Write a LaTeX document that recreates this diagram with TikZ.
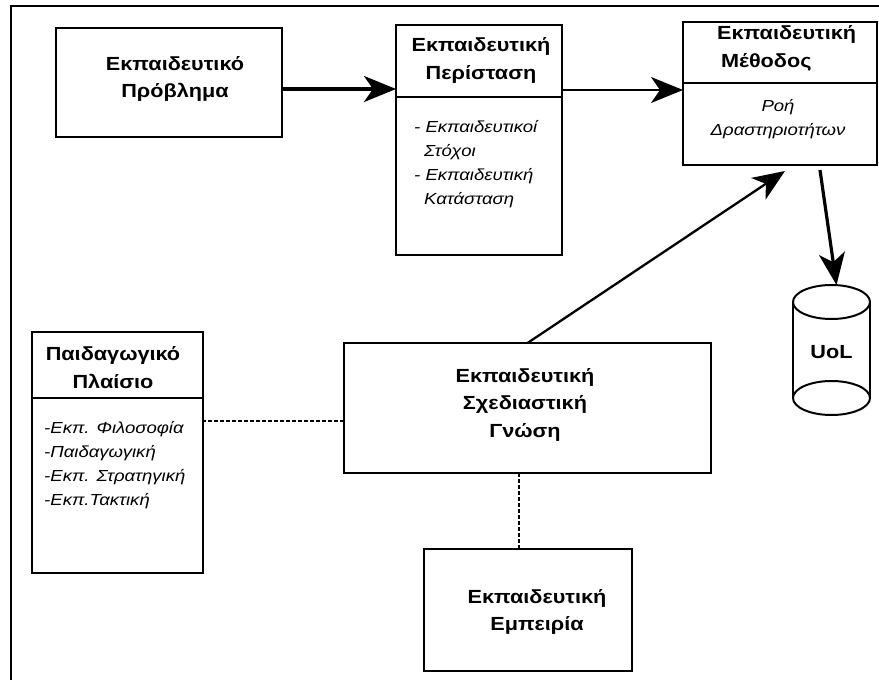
\documentclass[tikz,border=0pt]{standalone}
\usepackage{fontspec}
\setmainfont{Liberation Sans}[
  BoldFeatures={FakeStretch=1.14},
  ItalicFeatures={FakeStretch=1.16}]
\usetikzlibrary{arrows.meta}
\begin{document}
\begin{tikzpicture}[x=1pt,y=-1pt,
  box/.style={draw, line width=2.3pt, inner sep=0pt, outer sep=0pt},
  divider/.style={line width=1.3pt},
  title/.style={font=\fontsize{19}{27.5}\selectfont\bfseries, align=center, inner sep=0pt},
  items/.style={font=\fontsize{16}{24}\selectfont\itshape, align=left, inner sep=0pt},
  arrowline/.style={-{Stealth[length=32pt,width=26pt,inset=9pt]}},
  dashlink/.style={line width=2.4pt, dash pattern=on 4pt off 2pt}
]
\useasboundingbox (0,0) rectangle (879,680);

% frame edges
\draw[line width=2.8pt] (879,6) -- (11,6) -- (11,680);

% boxes
\node[box, minimum width=226pt, minimum height=109pt] (b1) at (169,82.5) {};
\node[box, minimum width=166pt, minimum height=230pt] (b2) at (479,140) {};
\node[box, minimum width=194pt, minimum height=143pt] (b3) at (780,93.5) {};
\node[box, minimum width=367pt, minimum height=130pt] (b4) at (527.5,408) {};
\node[box, minimum width=208pt, minimum height=122pt] (b5) at (528,610) {};
\node[box, minimum width=171pt, minimum height=241pt] (b6) at (117.5,452.5) {};

% compartment dividers
\draw[divider] ([yshift=-72pt]b2.north west) -- ([yshift=-72pt]b2.north east);
\draw[divider] ([yshift=-61pt]b3.north west) -- ([yshift=-61pt]b3.north east);
\draw[divider] ([yshift=-66pt]b6.north west) -- ([yshift=-66pt]b6.north east);

% database cylinder
\node[inner sep=0pt, outer sep=0pt, minimum width=77pt, minimum height=130pt] (cyl) at (831.5,350) {};
\draw[line width=2pt] ([yshift=-17pt]cyl.north west) -- ([yshift=17pt]cyl.south west);
\draw[line width=2pt] ([yshift=-17pt]cyl.north east) -- ([yshift=17pt]cyl.south east);
\draw[line width=2pt, fill=white] ([yshift=-17pt]cyl.north) ellipse [x radius=38.5pt, y radius=17pt];
\draw[line width=2pt] ([yshift=17pt]cyl.south) ellipse [x radius=38.5pt, y radius=17pt];

% texts
\node[title] (t1) at (175,79) {Εκπαιδευτικό\\Πρόβλημα};
\node[title] (t2) at (481,60.5) {Εκπαιδευτική\\Περίσταση};
\node[items, anchor=west] (i2) at (414,164) {- Εκπαιδευτικοί\\\hspace*{10pt}Στόχοι\\- Εκπαιδευτική\\\hspace*{10pt}Κατάσταση};
\node[title, align=left, anchor=west] (t3) at (717,48.5) {Εκπαιδευτική\\\hspace*{4pt}Μέθοδος};
\node[items, align=center] (i3) at (778,119.5) {Ροή\\Δραστηριοτήτων};
\node[title] (t4) at (525,404.5) {Εκπαιδευτική\\Σχεδιαστική\\Γνώση};
\node[title] (t5) at (537,612) {Εκπαιδευτική\\Εμπειρία};
\node[title] (t6) at (113,367.5) {Παιδαγωγικό\\Πλαίσιο};
\node[items, anchor=west] (i6) at (44,465.5) {-Εκπ. Φιλοσοφία\\-Παιδαγωγική\\-Εκπ. Στρατηγική\\-Εκπ.Τακτική};
\node[title] (uol) at ([yshift=-2pt]cyl.center) {UoL};

% connectors
\draw[arrowline, line width=3.2pt] ([yshift=-6.5pt]b1.east) -- ([yshift=-6.5pt]b1.east -| b2.west);
\draw[arrowline, line width=1.5pt] ([yshift=3.5pt]b3.west -| b2.east) -- ([yshift=3.5pt]b3.west);
\draw[arrowline, line width=2.3pt] (b4.north) -- ([shift={(5pt,-6pt)}]b3.south);
\draw[arrowline, line width=3.2pt] ([shift={(40pt,-5pt)}]b3.south) -- ([xshift=5pt]cyl.north);
\draw[dashlink] ([yshift=-13pt]b4.west) -- ([yshift=-13pt]b4.west -| b6.east);
\draw[dashlink] ([xshift=-8.5pt]b4.south) -- ([xshift=-8.5pt]b4.south |- b5.north);
\end{tikzpicture}
\end{document}
